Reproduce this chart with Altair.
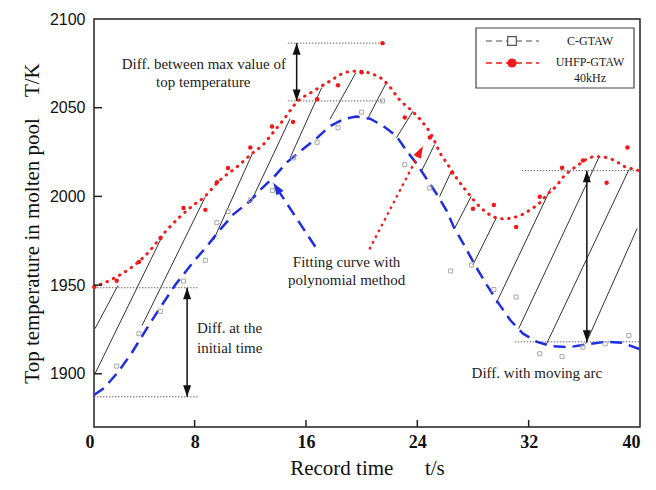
import altair as alt
import pandas as pd

# ---------------- data ----------------
# UHFP-GTAW 40kHz raw points (red)
red_t = [0.8, 2.4, 4.0, 5.55, 7.2, 8.77, 9.6, 10.4, 12.0, 13.56, 15.07, 16.8, 18.3, 20.0, 21.5,
         23.1, 24.9, 26.5, 28.0, 29.5, 31.1, 32.8, 34.4, 35.9, 37.6, 39.1]
red_T = [1949, 1952.4, 1963, 1976.5, 1993.5, 1992.4, 2008, 2016, 2027.5, 2039.4, 2042, 2054.7, 2062.6, 2070, 2086.4,
         2044.5, 2033.2, 2013.4, 1993, 1995.2, 1982.8, 1999.8, 2016.2, 2020.2, 2007.7, 2027.5]

# C-GTAW raw points (grey open squares)
grey_t = [2.4, 4.0, 5.54, 7.2, 8.77, 9.6, 10.4, 12.0, 13.6, 15.1, 16.8, 18.3, 20.0, 21.5,
          23.1, 24.9, 26.4, 27.9, 29.5, 31.1, 32.8, 34.4, 35.9, 37.5, 39.2]
grey_T = [1904.3, 1922.6, 1935.2, 1952.2, 1964, 1985.2, 1991.5, 1998, 2003.3, 2021.7, 2030.5, 2038.7, 2047.5, 2053.8,
          2017.9, 2004.7, 1958, 1961.3, 1947.5, 1943.3, 1911.3, 1909.7, 1915, 1916.9, 1921.6]

# polynomial fitting curve, UHFP-GTAW (red dotted)
fit_red_t = [0.77, 2.0, 3.2, 4.5, 6.0, 7.9, 8.6, 9.8, 11.1, 12.2, 12.9, 13.4, 14.4, 15.4, 16.4, 17.7, 18.9,
             19.7, 20.8, 21.5, 22.0, 22.7, 23.5, 24.2, 25.0, 25.7, 26.1, 26.9, 27.4, 28.5, 29.0, 29.7, 30.3,
             30.8, 31.5, 32.1, 32.8, 33.3, 34.0, 34.5, 35.1, 35.8, 36.4, 36.9, 37.6, 38.3, 38.9, 39.4, 39.95]
fit_red_T = [1949, 1953, 1958.5, 1967, 1981, 1995, 1999, 2009, 2017, 2024.7, 2029, 2033.7, 2043.4, 2053.6, 2058.7,
             2064.9, 2070, 2070.6, 2068.9, 2066, 2062, 2054.7, 2049, 2043.4, 2034.9, 2023.6, 2019, 2009.4, 2004.3,
             1994.1, 1990.7, 1987.9, 1987.3, 1987.9, 1989.6, 1992.4, 1996.4, 2000.9, 2006, 2011.1, 2015.1, 2019,
             2021.9, 2022.4, 2021.9, 2019.6, 2016.8, 2015.6, 2014.5]

# polynomial fitting curve, C-GTAW (blue dashed)
fit_blue_t = [0.77, 1.5, 2.5, 3.5, 4.6, 5.5, 6.6, 7.9, 8.9, 9.8, 10.8, 12.0, 12.7, 13.7, 14.6, 15.6, 16.8,
              17.7, 18.7, 19.6, 20.6, 21.5, 22.5, 23.2, 23.9, 24.7, 25.5, 26.1, 26.6, 27.4, 28.2, 29.0, 29.9,
              30.7, 31.6, 32.6, 33.7, 34.9, 36.1, 37.5, 38.7, 39.95]
fit_blue_T = [1888, 1892, 1901, 1912, 1926, 1937, 1950, 1963, 1972, 1981, 1990, 1997.5, 2003.5, 2011, 2019, 2025.5,
              2033, 2039.5, 2043.5, 2045, 2043.8, 2040, 2034, 2026, 2019, 2009.5, 2000, 1992, 1983, 1972, 1960.5,
              1950, 1939, 1930, 1922.6, 1918, 1915.5, 1915, 1916.5, 1918, 1917.5, 1914]

# hatching between the two curves
hatch_t1 = [0.84, 0.84, 4.23, 9.36, 12.0, 14.86, 17.72, 20.47, 22.5, 24.29, 25.6, 26.68, 27.99, 29.66, 31.28, 33.29, 36.1]
hatch_T1 = [1925.4, 1900, 1927.3, 1975.4, 1996.2, 2021.7, 2043.4, 2044.3, 2033, 2014.1, 1999.9, 1982, 1961.3, 1939.6,
            1925.4, 1916.9, 1916.9]
hatch_t2 = [2.49, 5.6, 8.77, 12.18, 14.86, 17.13, 19.59, 21.78, 23.69, 25.24, 26.44, 27.87, 29.66, 33.6, 37.06, 39.2, 39.8]
hatch_T2 = [1949.8, 1976.4, 1999.8, 2024.7, 2043.8, 2061.3, 2069.8, 2064.2, 2048.1, 2029.2, 2014.1, 2000, 1987.7,
            2004.7, 2022.2, 2015, 1982]

# dotted reference lines
ref_t1 = [0.77, 0.77, 14.7, 14.7, 31.5, 31.0]
ref_t2 = [8.27, 8.27, 21.5, 21.5, 40.0, 40.0]
ref_T = [1948.5, 1887, 2086.4, 2053.8, 2014.5, 1918]

# double-headed difference arrows
arrow_t = [7.46, 15.33, 36.18]
arrow_top = [1948.5, 2086.4, 2014.5]
arrow_bottom = [1887, 2053.8, 1918]

# pointer arrows from "Fitting curve" text
ptr_t1 = [16.67, 20.59]
ptr_T1 = [1971.6, 1970.7]
ptr_t2 = [13.66, 24.4]
ptr_T2 = [2007.5, 2028.3]
ptr_angle = [326.6, 27.7]

# annotation texts
note_c_text = ["Diff. between max value of", "top temperature", "Fitting curve with", "polynomial method",
               "Diff. with moving arc"]
note_c_t = [8.66, 8.62, 18.92, 18.92, 32.59]
note_c_T = [2074.5, 2064.3, 1963.1, 1952.8, 1900.3]
note_l_text = ["Diff. at the", "initial time"]
note_l_t = [8.17, 8.17]
note_l_T = [1925.6, 1914.8]

x_ticks = [8, 16, 24, 32]
y_ticks = [1900, 1950, 2000, 2050]
legend_names = ["C-GTAW", "UHFP-GTAW", "40kHz"]

# ---------------- chart ----------------
W, H = 546, 408
SERIF = "Liberation Serif"
NB = "\u00a0"
xs = alt.Scale(domain=[0.77, 40], nice=False, zero=False)
ys = alt.Scale(domain=[1870, 2100], nice=False, zero=False)
x_axis = alt.Axis(values=[0.77, 8, 16, 24, 32, 40], labelExpr="datum.value < 1 ? '0' : datum.label",
                  ticks=False, domain=False, grid=False, labelFont=SERIF, labelFontWeight="bold",
                  labelFontSize=18, labelPadding=6, labelColor="#111", labelFlush=False,
                  labelAlign={"condition": {"test": "datum.value < 1 || datum.value >= 40", "value": "right"},
                              "value": "center"},
                  title="Record time" + NB * 6 + "t/s", titleFont=SERIF, titleFontSize=21,
                  titleFontWeight="normal", titleColor="#111", titlePadding=6)
y_axis = alt.Axis(values=[1900, 1950, 2000, 2050, 2100], format="d", ticks=False, domain=False, grid=False,
                  labelFont="Liberation Sans", labelFontSize=16, labelPadding=9, labelColor="#111",
                  labelFlush=False, title="Top temperature in molten pool" + NB * 4 + "T/K", titleFont=SERIF,
                  titleFontSize=21, titleFontWeight="normal", titleColor="#111", titlePadding=7)


def X(f):
    return alt.X(f, type="quantitative", scale=xs, axis=x_axis)


def Y(f):
    return alt.Y(f, type="quantitative", scale=ys, axis=y_axis)


hatch_df = pd.DataFrame({"t1": hatch_t1, "T1": hatch_T1, "t2": hatch_t2, "T2": hatch_T2})
hatch = alt.Chart(hatch_df).mark_rule(color="#333333", strokeWidth=1).encode(
    x=X("t1"), y=Y("T1"), x2="t2", y2="T2")

blue_df = pd.DataFrame({"t": fit_blue_t, "T": fit_blue_T})
blue = alt.Chart(blue_df).mark_line(color="#1f2fe0", strokeDash=[12, 7], strokeWidth=2.5).encode(
    x=X("t"), y=Y("T"), order="t:Q")

redfit_df = pd.DataFrame({"t": fit_red_t, "T": fit_red_T})
redfit = alt.Chart(redfit_df).mark_line(color="#f21a1a", strokeDash=[0.5, 6.5], strokeCap="round",
                                        strokeWidth=3, interpolate="monotone").encode(
    x=X("t"), y=Y("T"), order="t:Q")

grey_df = pd.DataFrame({"t": grey_t, "T": grey_T})
grey = alt.Chart(grey_df).mark_point(shape="square", filled=False, color="#a8a8a8", size=16,
                                     strokeWidth=1, opacity=1).encode(x=X("t"), y=Y("T"))

red_df = pd.DataFrame({"t": red_t, "T": red_T})
red = alt.Chart(red_df).mark_circle(color="#f01818", size=20, opacity=1).encode(x=X("t"), y=Y("T"))

ref_df = pd.DataFrame({"t1": ref_t1, "t2": ref_t2, "T": ref_T})
refs = alt.Chart(ref_df).mark_rule(color="#666666", strokeDash=[1.5, 1.5], strokeWidth=1).encode(
    x=X("t1"), x2="t2", y=Y("T"))

arr_df = pd.DataFrame({"t": arrow_t, "top": arrow_top, "bottom": arrow_bottom})
shafts = alt.Chart(arr_df).mark_rule(color="#111111", strokeWidth=1.5).encode(
    x=X("t"), y=Y("top"), y2="bottom")

ARROW = "M0,0 L-0.8,2.3 L0.8,2.3 Z"
heads_df = pd.DataFrame({"t": arrow_t + arrow_t, "T": arrow_top + arrow_bottom,
                         "ang": [0] * len(arrow_t) + [180] * len(arrow_t)})
heads = alt.Chart(heads_df).mark_point(shape=ARROW, filled=True, color="#111111", size=100,
                                       opacity=1).encode(x=X("t"), y=Y("T"), angle=alt.Angle("ang:Q", scale=None))

ptr_df = pd.DataFrame({"t1": ptr_t1, "T1": ptr_T1, "t2": ptr_t2, "T2": ptr_T2, "ang": ptr_angle,
                       "kind": ["blue", "red"]})
ptr_blue = alt.Chart(ptr_df).transform_filter("datum.kind == 'blue'").mark_rule(
    color="#1f2fe0", strokeDash=[12, 7], strokeWidth=2.5).encode(x=X("t1"), y=Y("T1"), x2="t2", y2="T2")
ptr_red = alt.Chart(ptr_df).transform_filter("datum.kind == 'red'").mark_rule(
    color="#f21a1a", strokeDash=[0.5, 6], strokeCap="round", strokeWidth=2.5).encode(
    x=X("t1"), y=Y("T1"), x2="t2", y2="T2")
ptr_heads = alt.Chart(ptr_df).mark_point(shape=ARROW, filled=True, size=110, opacity=1).encode(
    x=X("t2"), y=Y("T2"), angle=alt.Angle("ang:Q", scale=None),
    color=alt.Color("kind:N", scale=alt.Scale(domain=["blue", "red"], range=["#1f2fe0", "#f21a1a"]),
                    legend=None))

notes_c = alt.Chart(pd.DataFrame({"t": note_c_t, "T": note_c_T, "txt": note_c_text})).mark_text(
    font=SERIF, fontSize=15, color="#222222", align="center", baseline="middle").encode(
    x=X("t"), y=Y("T"), text="txt:N")
notes_l = alt.Chart(pd.DataFrame({"t": note_l_t, "T": note_l_T, "txt": note_l_text})).mark_text(
    font=SERIF, fontSize=15, color="#222222", align="left", baseline="middle").encode(
    x=X("t"), y=Y("T"), text="txt:N")

# inward ticks
xt = alt.Chart(pd.DataFrame({"v": x_ticks})).mark_rule(color="#222222", strokeWidth=1.5).encode(
    x=X("v"), y=alt.value(H), y2=alt.value(H - 7))
yt = alt.Chart(pd.DataFrame({"v": y_ticks})).mark_rule(color="#222222", strokeWidth=1.5).encode(
    y=Y("v"), x=alt.value(0), x2=alt.value(8))

# legend (drawn by hand)
leg_df = pd.DataFrame({"name": legend_names})
leg_box = alt.Chart(leg_df).transform_filter("datum.name == 'C-GTAW'").mark_rect(
    fill="white", stroke="#444444", strokeWidth=1.2).encode(
    x=alt.value(382), x2=alt.value(540), y=alt.value(9), y2=alt.value(69))
leg_line1 = alt.Chart(leg_df).transform_filter("datum.name == 'C-GTAW'").mark_rule(
    color="#888888", strokeDash=[6, 4], strokeWidth=1.5).encode(
    x=alt.value(392), x2=alt.value(445), y=alt.value(22))
leg_sym1 = alt.Chart(leg_df).transform_filter("datum.name == 'C-GTAW'").mark_point(
    shape="square", filled=True, fill="white", stroke="#555555", strokeWidth=1.2, size=75, opacity=1).encode(
    x=alt.value(418), y=alt.value(22))
leg_line2 = alt.Chart(leg_df).transform_filter("datum.name == 'UHFP-GTAW'").mark_rule(
    color="#f21a1a", strokeDash=[6, 4], strokeWidth=1.5).encode(
    x=alt.value(392), x2=alt.value(445), y=alt.value(44))
leg_sym2 = alt.Chart(leg_df).transform_filter("datum.name == 'UHFP-GTAW'").mark_circle(
    color="#f21a1a", size=85, opacity=1).encode(x=alt.value(418), y=alt.value(44))
leg_txt = alt.Chart(leg_df).transform_calculate(
    yy="datum.name == 'C-GTAW' ? 22 : (datum.name == 'UHFP-GTAW' ? 43 : 59)").mark_text(
    font=SERIF, fontSize=12, color="#222222", align="center", baseline="middle").encode(
    x=alt.value(496), y=alt.Y("yy:Q", scale=None), text="name:N")

chart = alt.layer(
    hatch, refs, blue, redfit, grey, red, shafts, heads, ptr_blue, ptr_red, ptr_heads,
    notes_c, notes_l, xt, yt, leg_box, leg_line1, leg_sym1, leg_line2, leg_sym2, leg_txt
).properties(
    width=W, height=H,
    autosize=alt.AutoSizeParams(type="none"),
    padding={"left": 86, "top": 11, "right": 8, "bottom": 62},
    background="white"
).configure_view(stroke="#222222", strokeWidth=1.5)

chart.save("out.html", embed_options={"renderer": "svg", "actions": False})
